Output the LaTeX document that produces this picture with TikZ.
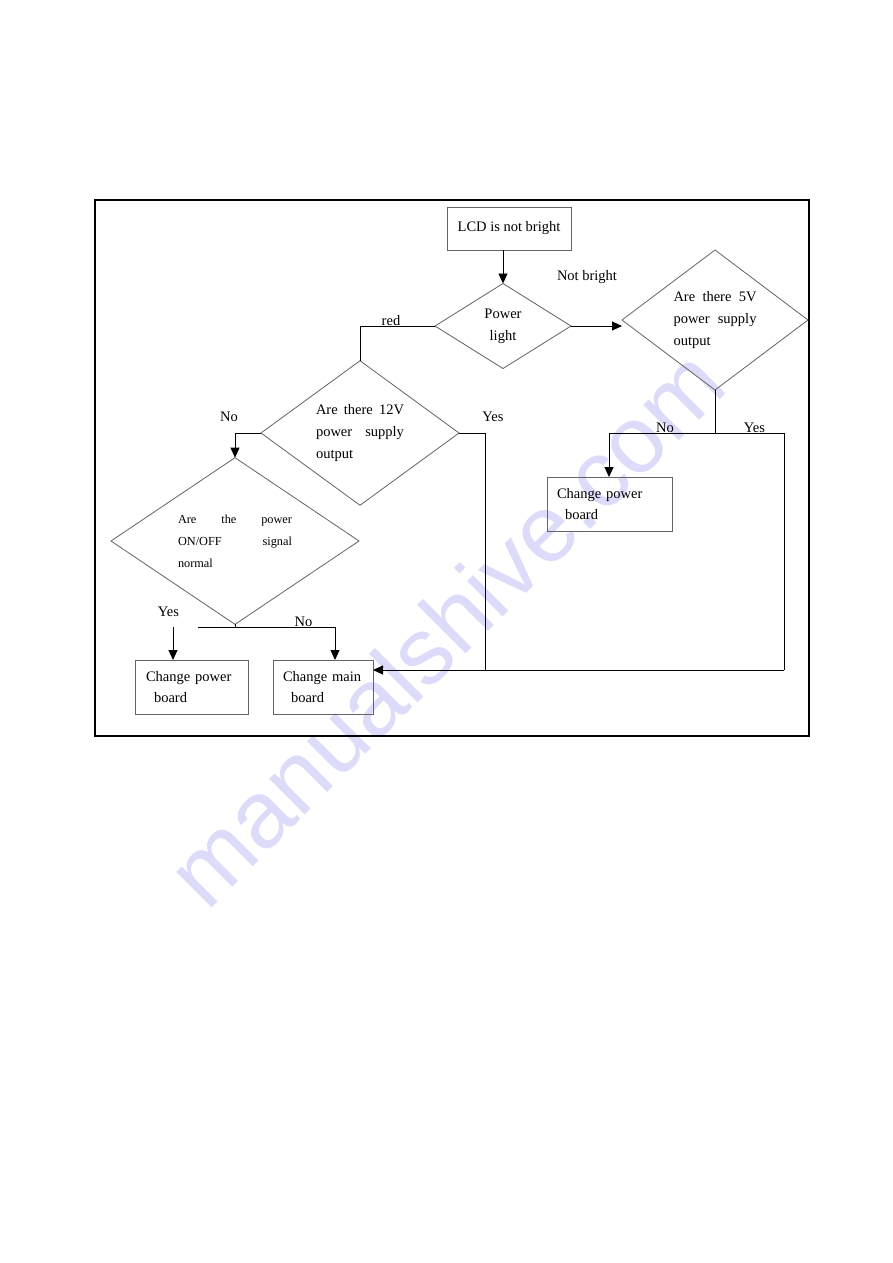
\documentclass[tikz,border=0pt]{standalone}
\usepackage{fontspec}
\setmainfont{Liberation Serif}
\newfontfamily\wmfont{Liberation Sans}
\usetikzlibrary{shapes.geometric,arrows.meta}
\definecolor{wm}{RGB}{220,220,250}
\definecolor{shapegray}{RGB}{100,100,100}
\tikzset{
  every node/.style={font=\fontsize{14.5}{21.7}\selectfont},
  dec/.style={draw=shapegray, line width=0.8pt, diamond, inner sep=0pt, outer sep=0pt},
  actbox/.style={draw=shapegray, line width=0.8pt, rectangle, inner sep=0pt, outer sep=0pt, align=left, minimum height=54pt},
  conn/.style={draw=black, line width=0.9pt},
  arr/.style={conn, -{Triangle[length=10pt,width=9pt]}},
  lbl/.style={inner sep=0pt}
}
\begin{document}
\begin{tikzpicture}[x=1pt,y=-1pt]
\fill[white] (0,0) rectangle (893,1263);
\useasboundingbox (0,0) rectangle (893,1263);
% watermark
\node[lbl, text=wm, font=\wmfont\fontsize{95}{95}\selectfont, rotate=45, anchor=base] (wmark) at (469,651) {manualshive.com};
% frame
\draw[line width=1.2pt] (95,200) rectangle (809,736);
% nodes
\node[draw=shapegray, line width=0.8pt, minimum width=124pt, minimum height=43pt, inner sep=0pt, outer sep=0pt] (lcd) at (509,228.5) {\raisebox{2pt}{LCD is not bright}};
\node[dec, minimum width=136pt, minimum height=85pt, align=center] (pl) at (503,326) {Power\\light};
\node[dec, minimum width=186pt, minimum height=140pt, align=left] (d5) at (715,320)
  {\makebox[83pt][s]{Are there 5V}\\\makebox[83pt][s]{power supply}\\output};
\node[dec, minimum width=198pt, minimum height=129pt, align=left] (d12) at (360,433)
  {\makebox[88pt][s]{Are there 12V}\\\makebox[88pt][s]{power supply}\\output};
\node[dec, minimum width=248pt, minimum height=129pt, align=left, font=\fontsize{12.3}{22}\selectfont] (don) at (235,541)
  {\makebox[114pt][s]{Are the power}\\\makebox[114pt][s]{ON/OFF signal}\\normal};
\node[actbox, minimum width=113pt, text width=91pt, inner xsep=11pt] (cpb1) at (191.5,687) {Change power\\\hspace*{8pt}board};
\node[actbox, minimum width=100pt, text width=80pt, inner xsep=10pt] (cmb) at (323,687) {Change main\\\hspace*{8pt}board};
\node[actbox, minimum width=125pt, text width=105pt, inner xsep=10pt] (cpb2) at (609.5,504) {Change power\\\hspace*{8pt}board};
% junction coordinates
\coordinate (j12y) at (485,670);
\coordinate (j5) at (715,433);
\coordinate (j5l) at (609,433);
\coordinate (j5r) at (784,433);
\coordinate (j5b) at (784,670);
\coordinate (jon) at (235,627);
\coordinate (jonl) at (198,627);
\coordinate (jonr) at (335,627);
\coordinate (jyes) at (173,627);
% connectors
\draw[arr] (pl.north |- lcd.south) -- (pl.north);
\draw[conn] (pl.west) -| (d12.north);
\draw[arr] (pl.east) -- (pl.east -| d5.west);
\draw[arr] (d12.west) -| (don.north);
\draw[conn] (d12.east) -| (j12y);
\draw[conn] (d5.south) -- (j5);
\draw[conn] (j5l) -- (j5r);
\draw[arr] (j5l) -- (j5l |- cpb2.north);
\draw[conn] (j5r) -- (j5b);
\draw[arr] (j5b) -- (j5b -| cmb.east);
\draw[conn] (don.south) -- (jon);
\draw[conn] (jonl) -- (jonr);
\draw[arr] (jonr) -- (jonr |- cmb.north);
\draw[arr] (jyes) -- (jyes |- cpb1.north);
% labels
\node[lbl, anchor=base] (lred) at (391,325) {red};
\node[lbl] (lnb) at (587,277) {Not bright};
\node[lbl] (lno12) at (229,417) {No};
\node[lbl] (lyes12) at (493,417) {Yes};
\node[lbl] (lyeson) at (168.5,612) {Yes};
\node[lbl, anchor=base] (lnoon) at (303.5,626) {No};
\node[lbl, anchor=base] (lno5) at (665,432) {No};
\node[lbl, anchor=base] (lyes5) at (754.5,432) {Yes};
\end{tikzpicture}
\end{document}
